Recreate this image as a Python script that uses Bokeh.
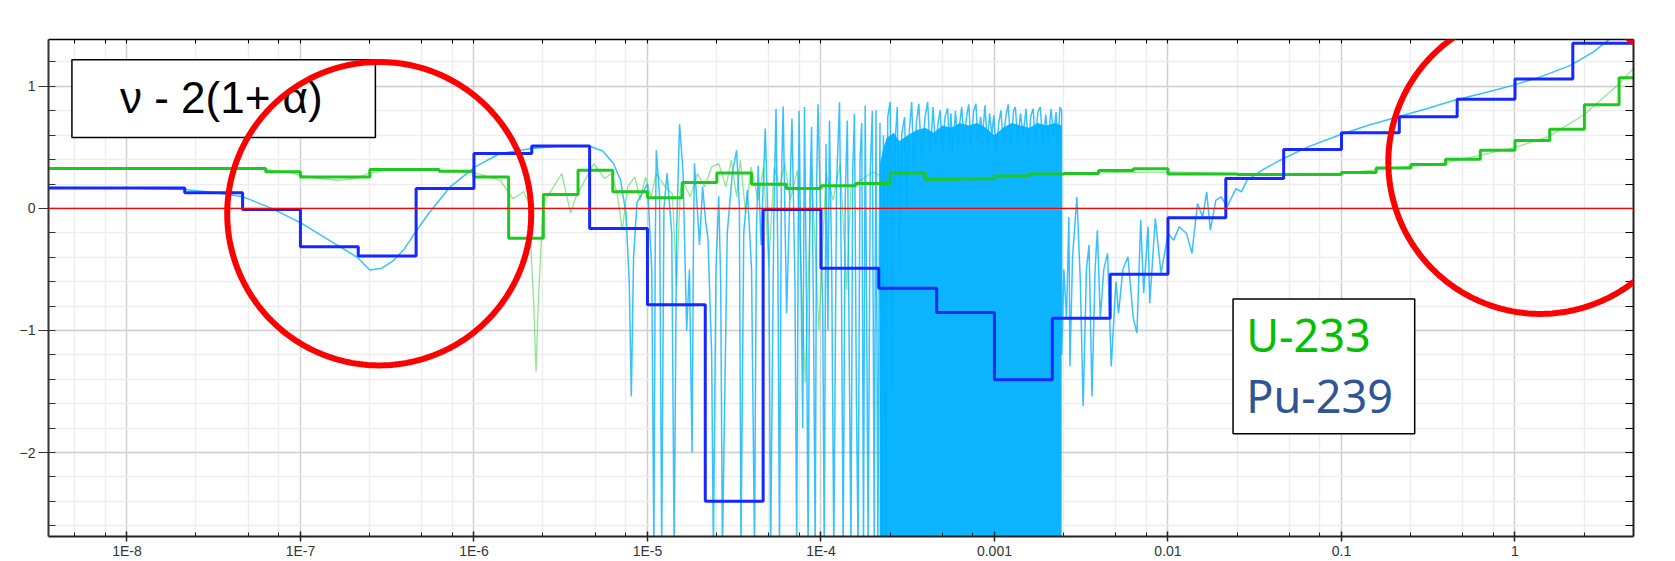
import numpy as np
from bokeh.plotting import figure
from bokeh.models import (FixedTicker, CustomJSTickFormatter, LinearAxis, LogAxis,
                          Span, BoxAnnotation, PolyAnnotation, Label, Range1d)
from bokeh.embed import file_html
from bokeh.resources import INLINE

# ---------------- data (energies in MeV, values = nu - 2(1+alpha)) ----------------
# Pu-239 group values (3 groups / decade)
pu239_group_edges = [1e-9, 2.154e-8, 4.642e-8, 1e-7, 2.154e-7, 4.642e-7, 1e-6, 2.154e-6,
                     4.642e-6, 1e-5, 2.154e-5, 4.642e-5, 1e-4, 2.154e-4, 4.642e-4, 1e-3,
                     2.154e-3, 4.642e-3, 1e-2, 2.154e-2, 4.642e-2, 0.1, 0.2154, 0.4642,
                     1.0, 2.154, 10.0]
pu239_group_values = [0.168, 0.128, -0.008, -0.314, -0.39, 0.163, 0.45, 0.512, -0.164,
                      -0.79, -2.399, -0.008, -0.49, -0.654, -0.853, -1.404, -0.9, -0.54,
                      -0.077, 0.245, 0.482, 0.621, 0.752, 0.894, 1.06, 1.354]

# U-233 group values (5 groups / decade)
u233_group_edges = [1e-9, 6.31e-8, 1e-7, 2.512e-7, 6.31e-7, 1e-6, 1.585e-6, 2.512e-6,
                    3.981e-6, 6.31e-6, 1e-5, 1.585e-5, 2.512e-5, 3.981e-5, 6.31e-5, 1e-4,
                    1.585e-4, 2.512e-4, 3.981e-4, 6.31e-4, 1e-3, 1.585e-3, 2.512e-3,
                    3.981e-3, 6.31e-3, 1e-2, 2.512e-2, 0.1, 0.1585, 0.2512, 0.3981,
                    0.631, 1.0, 1.585, 2.512, 3.981, 10.0]
u233_group_values = [0.328, 0.30, 0.258, 0.319, 0.305, 0.258, -0.245, 0.114, 0.313, 0.136,
                     0.087, 0.212, 0.291, 0.199, 0.163, 0.185, 0.204, 0.291, 0.238, 0.243,
                     0.265, 0.282, 0.287, 0.31, 0.325, 0.283, 0.277, 0.294, 0.332, 0.36,
                     0.403, 0.477, 0.556, 0.648, 0.85, 1.071]

# Pu-239 pointwise curve (log10 E, value) by region
pu239_thermal_lgE = [-8.45, -8.0, -7.667, -7.5, -7.33, -7.166, -7.0, -6.835, -6.673, -6.6,
                     -6.53, -6.466, -6.40, -6.342, -6.26, -6.137, -5.993, -5.85, -5.67,
                     -5.495, -5.336, -5.258, -5.196, -5.155, -5.124]
pu239_thermal_val = [0.172, 0.168, 0.155, 0.13, 0.095, 0.0, -0.117, -0.26, -0.40, -0.505,
                     -0.49, -0.43, -0.33, -0.204, -0.04, 0.177, 0.34, 0.45, 0.49, 0.512,
                     0.512, 0.471, 0.368, 0.231, -0.04]

pu239_resolved_lgE = [
    -5.105, -5.093, -5.08, -5.06, -5.02, -5.0, -4.975, -4.963, -4.955, -4.949,
    -4.93, -4.918, -4.905, -4.887, -4.86, -4.846, -4.832, -4.815, -4.795, -4.774,
    -4.758, -4.743, -4.735, -4.729, -4.70, -4.682, -4.665, -4.651, -4.63, -4.62,
    -4.605, -4.589, -4.578, -4.568, -4.54, -4.51, -4.486, -4.47, -4.461, -4.445,
    -4.424, -4.40, -4.383, -4.372, -4.362, -4.345, -4.321, -4.30, -4.29, -4.272,
    -4.259, -4.248, -4.239, -4.228, -4.218, -4.198, -4.167, -4.15, -4.14, -4.13,
    -4.126, -4.105, -4.095, -4.084, -4.074, -4.064, -4.054, -4.043, -4.033, -4.025,
    -4.017, -3.99, -3.981, -3.971, -3.96, -3.951, -3.938, -3.926, -3.91, -3.893,
    -3.882, -3.872, -3.86, -3.848, -3.837, -3.827, -3.817, -3.807, -3.796, -3.786,
    -3.775, -3.765, -3.76, -3.755, -3.745, -3.736, -3.728, -3.716, -3.704, -3.693]
pu239_resolved_val = [
    -0.6, -1.54, -0.4, 0.05, 0.15, 0.2, -0.5, -2.8, -0.3, 0.477,
    0.1, -2.8, 0.0, 0.29, -0.2, -2.8, -0.2, 0.69, 0.3, -1.0,
    -0.5, -2.0, -0.3, 0.37, -0.3, 0.18, -0.1, -0.25, -1.2, -2.8,
    -0.5, 0.1, -0.6, -2.8, -0.2, 0.3, 0.477, 0.0, -2.8, -0.2,
    0.15, -0.5, -2.8, -0.2, 0.35, -0.3, 0.654, -0.4, -2.8, -0.1,
    0.817, -0.5, -2.8, 0.2, 0.836, -0.86, 0.736, -0.6, -2.8, 0.1,
    0.80, -1.8, 0.83, -0.7, -2.8, 0.1, 0.67, -0.9, -2.8, 0.2,
    0.853, -0.8, -2.8, 0.53, -1.0, 0.72, -0.5, -2.8, 0.2, 0.87,
    -0.6, -2.8, 0.1, 0.72, -1.2, -2.8, 0.3, 0.776, -1.5, -2.8,
    0.4, 0.7, -1.0, -2.8, 0.844, -1.0, -2.8, 0.3, 0.80, -2.8]

pu239_dense_lgE = [
    -3.683, -3.672, -3.66, -3.65, -3.64, -3.628, -3.615, -3.601, -3.59, -3.575,
    -3.56, -3.548, -3.535, -3.518, -3.505, -3.49, -3.477, -3.465, -3.45, -3.436,
    -3.42, -3.40, -3.385, -3.37, -3.354, -3.34, -3.325, -3.313, -3.30, -3.285,
    -3.27, -3.26, -3.251, -3.24, -3.225, -3.21, -3.2, -3.189, -3.175, -3.16,
    -3.148, -3.135, -3.12, -3.107, -3.095, -3.08, -3.068, -3.055, -3.04, -3.028,
    -3.015, -3.004, -2.99, -2.975, -2.963, -2.95, -2.935, -2.921, -2.905, -2.89,
    -2.88, -2.865, -2.85, -2.835, -2.818, -2.805, -2.79, -2.777, -2.765, -2.75,
    -2.736, -2.72, -2.705, -2.69, -2.674, -2.66, -2.645, -2.635, -2.623, -2.613]
pu239_dense_val = [
    0.804, -2.8, 0.7, -2.8, 0.6, -2.8, 0.75, 0.872, -1.5, 0.5,
    0.831, -0.5, 0.6, 0.749, 0.0, 0.65, 0.872, 0.3, 0.7, 0.858,
    0.4, 0.75, 0.872, 0.45, 0.831, 0.5, 0.7, 0.804, 0.45, 0.75,
    0.82, 0.5, 0.78, 0.45, 0.8, 0.5, 0.7, 0.831, 0.55, 0.76,
    0.853, 0.5, 0.8, 0.858, 0.55, 0.75, 0.6, 0.844, 0.5, 0.78,
    0.6, 0.763, 0.45, 0.7, 0.804, 0.55, 0.75, 0.853, 0.5, 0.8,
    0.831, 0.55, 0.78, 0.6, 0.817, 0.5, 0.76, 0.817, 0.55, 0.79,
    0.831, 0.5, 0.77, 0.55, 0.817, 0.6, 0.79, 0.5, 0.831, 0.804]

# filled core of the dense resolved-resonance band (upper envelope)
pu239_band_lgE = [-3.662, -3.64, -3.62, -3.58, -3.55, -3.50, -3.45, -3.40, -3.35, -3.30,
                  -3.25, -3.20, -3.15, -3.10, -3.05, -3.00, -2.95, -2.90, -2.85, -2.80,
                  -2.75, -2.70, -2.65, -2.613]
pu239_band_top = [0.35, 0.5, 0.58, 0.62, 0.55, 0.6, 0.64, 0.66, 0.62, 0.68,
                  0.66, 0.7, 0.68, 0.7, 0.66, 0.6, 0.66, 0.7, 0.68, 0.66,
                  0.7, 0.68, 0.7, 0.68]

pu239_unres_lgE = [
    -2.612, -2.60, -2.585, -2.571, -2.565, -2.55, -2.525, -2.505, -2.489, -2.47,
    -2.455, -2.438, -2.42, -2.407, -2.39, -2.37, -2.348, -2.327, -2.30, -2.285,
    -2.26, -2.231, -2.20, -2.179, -2.157, -2.14, -2.115, -2.105, -2.073, -2.04,
    -1.999, -1.967, -1.935, -1.893, -1.862, -1.83, -1.80, -1.777, -1.756, -1.724,
    -1.693, -1.66, -1.608, -1.577, -1.545, -1.45, -1.354, -1.2, -1.016, -0.85,
    -0.678, -0.5, -0.35, -0.18, -0.012, 0.15, 0.32, 0.45, 0.548, 0.62]
pu239_unres_val = [
    -1.2, -0.5, -0.9, -0.07, -1.295, -0.4, 0.095, -0.6, -1.62, -0.5,
    -0.3, -1.54, -0.5, -0.18, -0.9, -0.5, -0.368, -1.295, -0.6, -0.86,
    -0.5, -0.396, -0.9, -1.02, -0.096, -0.695, -0.15, -0.777, -0.082, -0.532,
    -0.205, -0.26, -0.15, -0.205, -0.368, 0.04, -0.07, 0.136, -0.178, 0.068,
    0.095, 0.013, 0.163, 0.136, 0.231, 0.32, 0.395, 0.5, 0.6, 0.68,
    0.749, 0.82, 0.886, 0.945, 1.008, 1.08, 1.172, 1.28, 1.39, 1.48]

# U-233 pointwise curve (log10 E, value)
u233_thermal_lgE = [-8.45, -8.0, -7.5, -7.2, -7.05, -7.0, -6.9, -6.774, -6.68, -6.61, -6.5,
                    -6.3, -6.1, -5.992, -5.848, -5.776, -5.714, -5.685, -5.655, -5.642,
                    -5.63, -5.601]
u233_thermal_val = [0.335, 0.332, 0.33, 0.32, 0.29, 0.272, 0.245, 0.231, 0.245, 0.286, 0.315,
                    0.318, 0.305, 0.291, 0.23, 0.08, 0.136, 0.05, -0.8, -1.336, -0.8, 0.05]
u233_resolved_lgE = [-5.577, -5.494, -5.443, -5.412, -5.309, -5.247, -5.206, -5.175, -5.145,
                     -5.114, -5.073, -5.042, -5.011, -4.98, -4.949, -4.898, -4.856, -4.832,
                     -4.811, -4.795, -4.753, -4.712, -4.671, -4.63, -4.589, -4.548, -4.517,
                     -4.486, -4.465, -4.434, -4.403, -4.362, -4.331, -4.301, -4.27, -4.239,
                     -4.208, -4.177, -4.136, -4.091, -4.054, -4.012, -3.971, -3.93, -3.889,
                     -3.852, -3.827]
u233_resolved_val = [0.095, 0.286, -0.04, 0.095, 0.367, 0.245, 0.286, 0.12, -0.178, 0.177,
                     0.258, 0.068, 0.258, 0.095, 0.286, 0.177, 0.12, -0.64, 0.15, 0.218,
                     0.095, 0.286, 0.177, 0.34, 0.367, 0.177, 0.395, 0.095, 0.395, -0.04,
                     0.34, 0.068, 0.34, -0.477, 0.34, 0.177, 0.367, 0.068, 0.313, -1.431,
                     0.34, -0.995, 0.286, 0.068, 0.367, -0.668, 0.177]
u233_fast_lgE = [-3.7, -3.5, -3.3, -3.2, -3.0, -2.5, -2.0, -1.5, -1.0, -0.8, -0.6, -0.414,
                 -0.218, 0.0, 0.197, 0.4, 0.6, 0.69]
u233_fast_val = [0.3, 0.15, 0.3, 0.2, 0.26, 0.29, 0.3, 0.28, 0.29, 0.315, 0.345, 0.37,
                 0.43, 0.5, 0.59, 0.77, 1.02, 1.16]

# axis ticks / texts
x_tick_values = [1e-8, 1e-7, 1e-6, 1e-5, 1e-4, 1e-3, 1e-2, 1e-1, 1.0]
x_tick_labels = ["1E-8", "1E-7", "1E-6", "1E-5", "1E-4", "0.001", "0.01", "0.1", "1"]
y_tick_values = [-2, -1, 0, 1]
title_text = "\u03bd - 2(1+ \u03b1)"
legend_labels = ["U-233", "Pu-239"]
legend_colors = ["#00c000", "#2f5597"]

# highlight circles: centre (log10 E, value)
circle_center_lgE = [-6.546, 0.146]
circle_center_val = [-0.043, 0.379]

# ---------------- figure ----------------
X_LG0, X_LG1 = -8.452, 0.683
Y0, Y1 = -2.688, 1.384

p = figure(width=1675, height=561, x_axis_type="log",
           x_range=Range1d(10 ** X_LG0, 10 ** X_LG1), y_range=Range1d(Y0, Y1),
           output_backend="svg", toolbar_location=None,
           min_border_left=48, min_border_right=42, min_border_top=39, min_border_bottom=24)
p.outline_line_color = None
p.background_fill_color = "white"
p.border_fill_color = "white"

x_minor = [m * 10.0 ** d for d in range(-9, 1) for m in (2.5, 5.0, 7.5)]
y_minor = [round(-2.6 + 0.2 * i, 1) for i in range(20)]
xt = FixedTicker(ticks=x_tick_values, minor_ticks=x_minor)
yt = FixedTicker(ticks=y_tick_values, minor_ticks=y_minor)

fmt = CustomJSTickFormatter(args=dict(vals=x_tick_values, labs=x_tick_labels), code="""
for (let i = 0; i < vals.length; i++) {
  if (Math.abs(Math.log10(tick) - Math.log10(vals[i])) < 1e-6) return labs[i];
}
return "";
""")

ax = p.xaxis[0]
ax.ticker = xt
ax.formatter = fmt
ax.axis_line_color = "#222222"
ax.axis_line_width = 2
ax.major_tick_in = 5
ax.major_tick_out = 5
ax.minor_tick_in = 4
ax.minor_tick_out = 0
ax.major_tick_line_color = "#222222"
ax.minor_tick_line_color = "#222222"
ax.major_tick_line_width = 1.5
ax.major_label_text_font = "Liberation Sans"
ax.major_label_text_font_size = "14px"
ax.major_label_text_color = "#333333"
ax.major_label_standoff = 1

ay = p.yaxis[0]
ay.ticker = yt
ay.axis_line_color = "#333333"
ay.axis_line_width = 2
ay.major_tick_in = 0
ay.major_tick_out = 10
ay.minor_tick_in = 7
ay.minor_tick_out = 0
ay.major_tick_line_color = "#333333"
ay.minor_tick_line_color = "#333333"
ay.major_label_text_font = "Liberation Sans"
ay.major_label_text_font_size = "14px"
ay.major_label_text_color = "#333333"
ay.major_label_standoff = 3

p.xgrid.ticker = xt
p.ygrid.ticker = yt
for g in (p.xgrid[0], p.ygrid[0]):
    g.grid_line_color = "#cfcfcf"
    g.grid_line_width = 1.5
    g.minor_grid_line_color = "#ededed"
    g.minor_grid_line_width = 1.5

blank = CustomJSTickFormatter(code="return '';")
top_axis = LogAxis(ticker=xt, formatter=blank, major_tick_in=4, major_tick_out=0,
                   minor_tick_in=4, minor_tick_out=0, major_label_standoff=0,
                   axis_line_color="black", axis_line_width=1.5)
p.add_layout(top_axis, "above")
right_axis = LinearAxis(ticker=yt, formatter=blank, major_tick_in=8, major_tick_out=0,
                        minor_tick_in=8, minor_tick_out=0, major_label_standoff=0,
                        axis_line_color="#222222", axis_line_width=2)
p.add_layout(right_axis, "right")

# ---------------- glyphs ----------------
def E(lg):
    return np.power(10.0, np.asarray(lg, dtype=float))

u233_pw_lgE = u233_thermal_lgE + u233_resolved_lgE + u233_fast_lgE
u233_pw_val = u233_thermal_val + u233_resolved_val + u233_fast_val
p.line(E(u233_pw_lgE), u233_pw_val, line_color="#33d633", line_alpha=0.55, line_width=1.3)

p.varea(x=E(pu239_band_lgE), y1=[-3.0] * len(pu239_band_lgE), y2=pu239_band_top,
        fill_color="#00b0ff", fill_alpha=0.95)
pu239_pw_lgE = pu239_thermal_lgE + pu239_resolved_lgE + pu239_dense_lgE + pu239_unres_lgE
pu239_pw_val = pu239_thermal_val + pu239_resolved_val + pu239_dense_val + pu239_unres_val
p.line(E(pu239_pw_lgE), pu239_pw_val, line_color="#00b0ff", line_alpha=0.78, line_width=1.5)

p.step(x=u233_group_edges, y=u233_group_values + [u233_group_values[-1]], mode="after",
       line_color="#1fc81f", line_width=3)
p.step(x=pu239_group_edges, y=pu239_group_values + [pu239_group_values[-1]], mode="after",
       line_color="#1428ff", line_width=3)

p.add_layout(Span(location=0, dimension="width", line_color="#ff0000", line_width=1.2))

# ---------------- annotations ----------------
p.add_layout(BoxAnnotation(left=10 ** -8.317, right=10 ** -6.568, top=1.218, bottom=0.581,
                           fill_color="white", fill_alpha=1.0, line_color="black",
                           line_alpha=1.0, line_width=1.5))
p.add_layout(BoxAnnotation(left=10 ** -1.625, right=10 ** -0.578, top=-0.742, bottom=-1.846,
                           fill_color="white", fill_alpha=1.0, line_color="black",
                           line_alpha=1.0, line_width=1.5))
p.add_layout(Label(x=10 ** -7.456, y=0.905, text=title_text, text_align="center",
                   text_baseline="middle", text_font="Liberation Sans",
                   text_font_size="44px", text_color="black"))
for txt, col, yv in zip(legend_labels, legend_colors, [-1.035, -1.53]):
    p.add_layout(Label(x=10 ** -1.549, y=yv, text=txt, text_align="left",
                       text_baseline="middle", text_font="Noto Sans",
                       text_font_size="45px", text_color=col))

# red highlight circles (radius: 0.876 decade horizontally, 1.243 units vertically)
t = np.linspace(0.0, 2.0 * np.pi, 241)
for lc, vc in zip(circle_center_lgE, circle_center_val):
    xs = np.power(10.0, lc + 0.876 * np.cos(t))
    ys = vc + 1.243 * np.sin(t)
    p.add_layout(PolyAnnotation(xs=list(xs), ys=list(ys), fill_color=None, fill_alpha=0,
                                line_color="#ff0000", line_alpha=1.0, line_width=6))

open("out.html", "w").write(file_html(p, INLINE))
